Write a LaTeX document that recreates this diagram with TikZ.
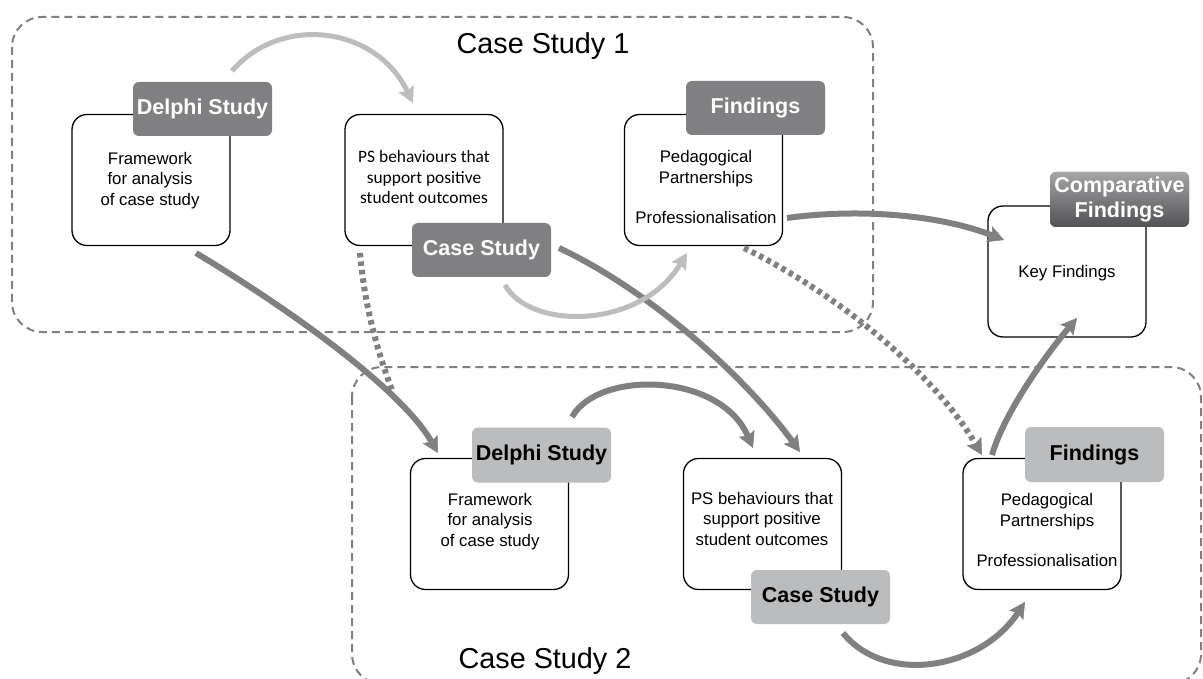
\documentclass[tikz,border=0pt]{standalone}
\usepackage{fontspec}
\setmainfont{Liberation Sans}
\newfontfamily\calibrifont{Carlito}
\usetikzlibrary{arrows.meta}
\definecolor{dgray}{RGB}{128,128,131}
\definecolor{lgray}{RGB}{188,189,191}
\definecolor{lblgray}{RGB}{187,188,190}
\definecolor{dashgray}{RGB}{128,128,128}
\definecolor{cftop}{RGB}{165,165,167}
\definecolor{cfbot}{RGB}{82,82,85}
\tikzset{
  box/.style={draw=black, line width=1.3pt, fill=white, rounded corners=15pt,
    minimum width=158pt, minimum height=131pt, inner sep=0pt},
  dlabel/.style={fill=dgray, rounded corners=6pt, minimum width=139pt,
    minimum height=54pt, text=white, inner sep=0pt, align=center,
    font=\bfseries\fontsize{21.5}{25}\selectfont},
  llabel/.style={dlabel, fill=lblgray, text=black},
  body/.style={align=center, inner sep=0pt, font=\fontsize{16.8}{20.5}\selectfont},
  calbody/.style={align=center, inner sep=0pt, font=\calibrifont\fontsize{17.4}{20.5}\selectfont},
  titletext/.style={inner sep=0pt, font=\fontsize{28.8}{32}\selectfont},
  dashbox/.style={draw=dashgray, line width=2pt, dash pattern=on 8pt off 5pt, rounded corners=30pt},
  darrow/.style={draw=dgray, line width=6pt,
    -{Stealth[length=16pt,width=17pt,inset=3pt,line width=0.5pt]}},
  larrow/.style={darrow, draw=lgray, line width=5pt},
  dotline/.style={draw=dgray, line width=6pt, dash pattern=on 4.5pt off 4pt},
  dotarrow/.style={darrow, dash pattern=on 4.5pt off 4pt},
}
\begin{document}
\begin{tikzpicture}[x=1pt,y=1pt]
\useasboundingbox (0,0) rectangle (1203,-679);
\fill[white] (0,0) rectangle (1203,-679);
\begin{scope}
\clip (0,0) rectangle (1203,-679);
\draw[dashbox] (12,-17) rectangle (873,-332);
\draw[dashbox] (352,-367) rectangle (1201,-684);
\end{scope}

\node[titletext, anchor=base] (t1) at (543,-54) {Case Study 1};
\node[titletext, anchor=base] (t2) at (545,-668) {Case Study 2};

% boxes
\node[box] (b1) at (151,-180) {};
\node[box] (b2) at (424,-180) {};
\node[box] (b3) at (703.5,-180) {};
\node[box] (b4) at (1067,-271.5) {};
\node[box] (b5) at (489.5,-524) {};
\node[box] (b6) at (762.5,-524) {};
\node[box] (b7) at (1042,-524) {};

% labels
\node[dlabel] (l1) at (202.5,-109) {Delphi Study};
\node[dlabel] (l2) at (481.5,-250) {Case Study};
\node[dlabel] (l3) at (755.5,-108) {Findings};
\node[dlabel, top color=cftop, bottom color=cfbot, minimum height=55pt] (l4) at (1119.5,-199.5) {Comparative\\Findings};
\node[llabel, minimum height=55pt] (l5) at (541.5,-455) {Delphi Study};
\node[llabel] (l6) at (820.5,-597) {Case Study};
\node[llabel, minimum height=55pt] (l7) at (1094.5,-454.5) {Findings};

% body texts
\node[body] (x1) at (150,-180.5) {Framework\\for analysis\\of case study};
\node[calbody] (x2) at (424,-177.5) {PS behaviours that\\support positive\\student outcomes};
\node[body] (x3) at (706,-187) {Pedagogical\\Partnerships\\[19.5pt]Professionalisation};
\node[body] (x4) at (1067,-273) {Key Findings};
\node[body] (x5) at (490,-521.5) {Framework\\for analysis\\of case study};
\node[body] (x6) at (762,-518.5) {PS behaviours that\\support positive\\student outcomes};
\node[body] (x7) at (1047,-530) {Pedagogical\\Partnerships\\[19.5pt]Professionalisation};

% connector end points
\coordinate (a1s) at (232,-71);   \coordinate (a1e) at (413,-103);
\coordinate (a2s) at (196,-253);  \coordinate (a2e) at (438,-453);
\coordinate (a3s) at (360,-253);  \coordinate (a3e) at (392,-390);
\coordinate (a4s) at (559,-248);  \coordinate (a4e) at (800,-452);
\coordinate (a5s) at (505,-285);  \coordinate (a5e) at (687,-253);
\coordinate (a6s) at (787,-218);  \coordinate (a6e) at (1004,-240);
\coordinate (a7s) at (744,-248);  \coordinate (a7e) at (982,-455);
\coordinate (a8s) at (992,-455);  \coordinate (a8e) at (1077,-318);
\coordinate (a9s) at (572,-417);  \coordinate (a9e) at (753,-448);
\coordinate (a10s) at (843,-633); \coordinate (a10e) at (1025,-602);

% connectors
\draw[larrow] (a1s) .. controls (280,-15) and (375,-25) .. (a1e);
\draw[dotline] (a3s) .. controls (364,-300) and (375,-345) .. (a3e);
\draw[darrow] (a2s) .. controls (299,-315) and (403,-392) .. (a2e);
\draw[darrow] (a4s) .. controls (659,-295) and (753,-387) .. (a4e);
\draw[larrow] (a5s) .. controls (530,-330) and (640,-330) .. (a5e);
\draw[darrow] (a6s) .. controls (860,-208) and (940,-215) .. (a6e);
\draw[dotarrow] (a7s) .. controls (840,-295) and (935,-375) .. (a7e);
\draw[darrow] (a8s) .. controls (1005,-410) and (1050,-350) .. (a8e);
\draw[darrow] (a9s) .. controls (598,-370) and (720,-372) .. (a9e);
\draw[darrow] (a10s) .. controls (885,-685) and (980,-670) .. (a10e);
\end{tikzpicture}
\end{document}
